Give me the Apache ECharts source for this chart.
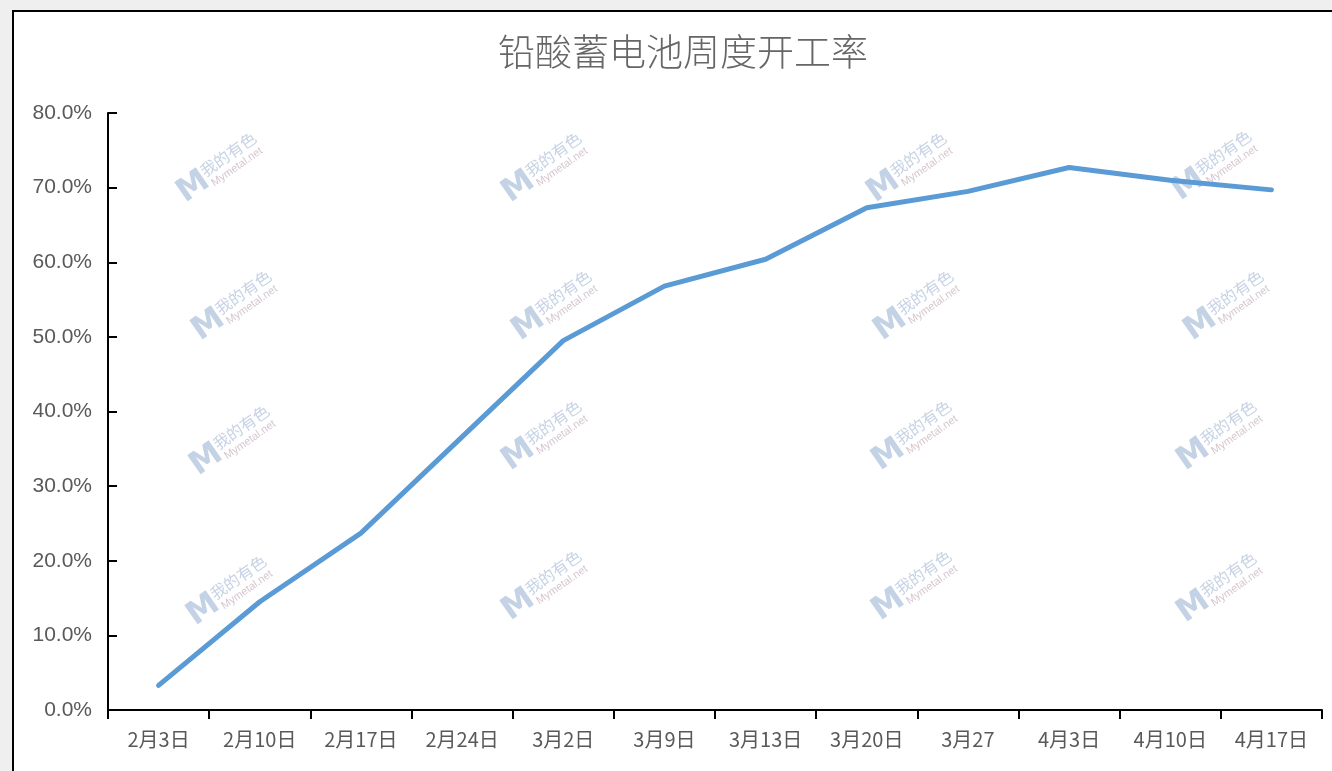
<!DOCTYPE html>
<html>
<head>
<meta charset="utf-8">
<script src="https://cdn.jsdelivr.net/npm/echarts@6/dist/echarts.min.js"></script>
<style>
  html, body { margin: 0; padding: 0; background: #efefef; }
  #frame {
    position: absolute; left: 12px; top: 10px; width: 1340px; height: 780px;
    background: #fff; border-left: 2px solid #000; border-top: 2px solid #000;
  }
  #chart { position: absolute; left: 0; top: 0; width: 1332px; height: 771px; }
</style>
</head>
<body>
<div id="frame"></div>
<div id="chart"></div>
<script>
// 週次
const categories = ['2月3日', '2月10日', '2月17日', '2月24日', '3月2日', '3月9日',
    '3月13日', '3月20日', '3月27', '4月3日', '4月10日', '4月17日'];
// 開工率 (%)
const rates = [3.3, 14.5, 23.7, 36.6, 49.5, 56.8, 60.4, 67.3, 69.5, 72.7, 71.0, 69.7];
// y 軸刻度
const yMin = 0;
const yMax = 80;
const yStep = 10;

const titleText = '铅酸蓄电池周度开工率';
const cjkFont = '"Noto Sans CJK SC", "Noto Sans", sans-serif';

// 水印位置
const marks = [
    [215, 172], [540, 172], [905, 172], [1210, 170],
    [230, 310], [550, 310], [912, 310], [1222, 310],
    [228, 445], [540, 440], [910, 440], [1215, 440],
    [225, 595], [540, 590], [910, 590], [1215, 592],
];

const watermark = ([x, y]) => ({
    type: 'group',
    x: x,
    y: y,
    rotation: 35 * Math.PI / 180,
    silent: true,
    z: 0,
    children: [
        {type: 'text', x: -42, y: -16, style: {text: 'M', fill: '#c4d2e6',
            font: 'bold 32px "DejaVu Sans", sans-serif'}},
        {type: 'text', x: -11, y: -15, style: {text: '我的有色', fill: '#c7d3e5',
            font: '16px ' + cjkFont}},
        {type: 'text', x: -9, y: 3, style: {text: 'Mymetal.net', fill: '#d6c6cf',
            font: '11px "Liberation Sans", sans-serif'}},
    ],
});

const chart = echarts.init(document.getElementById('chart'));

const option = {
    backgroundColor: 'transparent',
    animation: false,
    title: {
        text: titleText,
        left: 678,
        top: 28,
        textAlign: 'center',
        textStyle: {
            color: '#666666',
            fontSize: 37,
            fontWeight: 300,
            fontFamily: cjkFont,
        },
    },
    grid: {
        left: 108,
        right: 10,
        top: 113,
        bottom: 61,
    },
    graphic: marks.map(watermark),
    xAxis: {
        type: 'category',
        data: categories,
        boundaryGap: true,
        axisLine: {lineStyle: {color: '#000', width: 2}},
        axisTick: {show: true, alignWithLabel: false, length: 9, lineStyle: {color: '#000', width: 2}},
        axisLabel: {
            interval: 0,
            color: '#595959',
            fontSize: 20,
            fontFamily: cjkFont,
            margin: 19,
        },
        splitLine: {show: false},
    },
    yAxis: {
        type: 'value',
        min: yMin,
        max: yMax,
        interval: yStep,
        axisLine: {show: true, lineStyle: {color: '#000', width: 2}},
        axisTick: {show: true, inside: true, length: 9, lineStyle: {color: '#000', width: 2}},
        axisLabel: {
            color: '#595959',
            fontSize: 21,
            fontFamily: '"Liberation Sans", sans-serif',
            margin: 16,
            formatter: v => v.toFixed(1) + '%',
        },
        splitLine: {show: false},
    },
    series: [
        {
            type: 'line',
            data: rates,
            showSymbol: false,
            symbol: 'none',
            z: 3,
            lineStyle: {color: '#5b9bd5', width: 5, cap: 'round', join: 'round'},
        },
    ],
};

chart.setOption(option);
</script>
</body>
</html>
